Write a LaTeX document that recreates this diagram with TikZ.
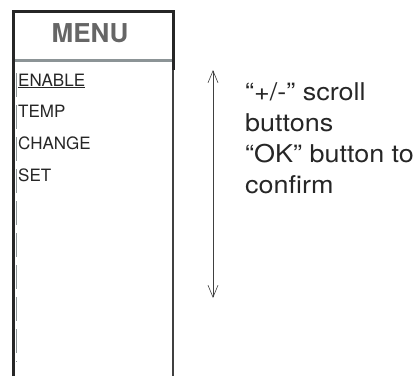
\documentclass[tikz,border=0pt]{standalone}
\usepackage{fontspec}
\setmainfont{TeX Gyre Heros}
\newfontfamily\notefont[FakeStretch=1.1]{TeX Gyre Heros}
\usetikzlibrary{arrows.meta}
\definecolor{menugray}{RGB}{140,148,150}

\begin{document}
\begin{tikzpicture}[x=1pt, y=-1pt,
	item/.style={anchor=base west, inner sep=0pt, text=black!85, font=\fontsize{17}{17}\selectfont},
	note/.style={anchor=base west, inner sep=0pt, text=black!85, font=\notefont\fontsize{24.5}{24.5}\selectfont},
	barb/.tip={Straight Barb[length=12pt, width=10pt]}]
	%%%%% START %%%%%
	\useasboundingbox (0, 0) rectangle (414, 376);
	
	\draw[line width=3pt, color=black!85] (13.5, 376) -- (13.5, 11) -- (173, 11) -- (173, 70);
	\draw[line width=1.2pt, color=black!75] (173, 70) -- (173, 376);
	\draw[line width=3pt, color=menugray] (15, 60.5) -- (171.5, 60.5);
	\draw[line width=1.5pt, color=menugray, dash pattern=on 24pt off 8pt] (16.5, 73) -- (16.5, 362);
	
	\node[inner sep=0pt, text=black!60, font=\fontsize{26}{26}\bfseries] (menu) at (90, 33) {MENU};
	
	\node[item] (enable) at (18, 86) {\underline{ENABLE}};
	\node[item] (temp) at (18, 117) {TEMP};
	\node[item] (change) at (18, 149) {CHANGE};
	\node[item] (set) at (18, 181) {SET};
	
	\coordinate (up) at (213, 70);
	\coordinate (down) at (213, 298);
	\draw[line width=0.6pt, color=black!75, barb-barb] (up) -- (down);
	
	\node[note] (line1) at (245, 100) {“+/-” scroll};
	\node[note] (line2) at (245, 131) {buttons};
	\node[note] (line3) at (245, 162) {“OK” button to};
	\node[note] (line4) at (245, 193) {confirm};
	
	%%%%% END %%%%%
\end{tikzpicture}
\end{document}
